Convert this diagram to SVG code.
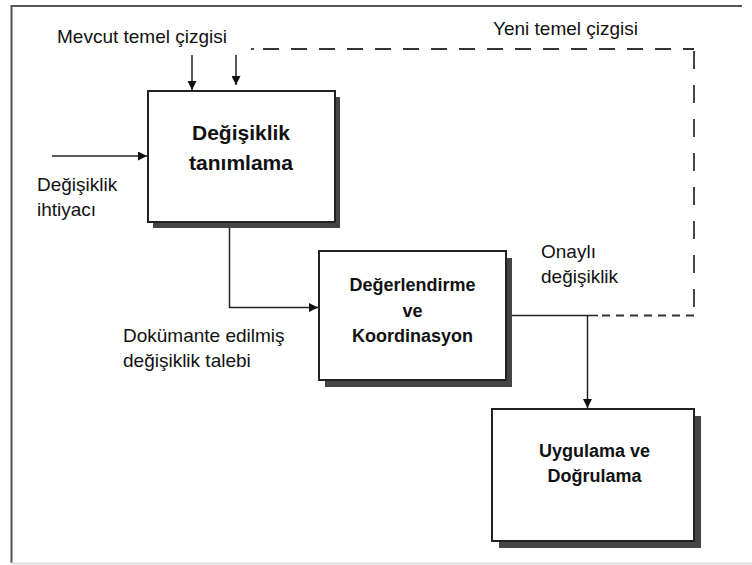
<svg xmlns="http://www.w3.org/2000/svg" width="752" height="565" viewBox="0 0 752 565">
  <style>
    .frame { stroke: #555; stroke-width: 2; fill: none; }
    .box { fill: #fff; stroke: #222; stroke-width: 2; }
    .shadow { fill: #444; }
    .line { stroke: #222; stroke-width: 1.5; fill: none; }
    .dash { stroke: #333; stroke-width: 1.8; fill: none; }
    .lbl { font-family: "Liberation Sans", Arial, sans-serif; font-size: 19px; fill: #111; }
    .title { font-family: "Liberation Sans", Arial, sans-serif; font-weight: bold; fill: #111; text-anchor: middle; }
  </style>
  <defs>
    <marker id="arrow" viewBox="0 0 10 10" refX="10" refY="5" markerWidth="10" markerHeight="9" markerUnits="userSpaceOnUse" orient="auto">
      <path d="M0,0 L10,5 L0,10 z" fill="#111"/>
    </marker>
  </defs>

  <rect width="752" height="565" fill="#fff"/>

  <!-- outer frame -->
  <g id="frame">
    <path class="frame" d="M11.5,563 V6 H742"/>
    <line x1="11" y1="563.5" x2="752" y2="563.5" stroke="#ddd" stroke-width="2"/>
  </g>

  <!-- connectors -->
  <g id="connectors">
    <path class="line" d="M52,156 H147" marker-end="url(#arrow)"/>
    <path class="line" d="M192,55 V90" marker-end="url(#arrow)"/>
    <path class="line" d="M236,55 V85" marker-end="url(#arrow)"/>
    <path class="line" d="M229.5,222 V307.5 H318" marker-end="url(#arrow)"/>
    <path class="line" d="M506,315.5 H598"/>
    <path class="line" d="M587.5,315.5 V408" marker-end="url(#arrow)"/>
    <!-- new baseline feedback -->
    <path class="dash" d="M251,49 H254"/>
    <path class="dash" d="M263,49 H694" stroke-dasharray="16 12"/>
    <path class="dash" d="M694,49 V315" stroke-dasharray="0 2 18 14"/>
    <path class="dash" d="M694,315.5 H598" stroke-dasharray="8 6"/>
  </g>

  <!-- free labels -->
  <g id="labels">
    <text class="lbl" x="57" y="43">Mevcut temel çizgisi</text>
    <text class="lbl" x="493" y="35">Yeni temel çizgisi</text>
    <text class="lbl" x="37" y="191">Değişiklik</text>
    <text class="lbl" x="37" y="216">ihtiyacı</text>
    <text class="lbl" x="123" y="342">Dokümante edilmiş</text>
    <text class="lbl" x="123" y="367">değişiklik talebi</text>
    <text class="lbl" x="541" y="258">Onaylı</text>
    <text class="lbl" x="541" y="283">değişiklik</text>
  </g>

  <g id="node-tanimlama">
    <rect class="shadow" x="153" y="97" width="187" height="131"/>
    <rect class="box" x="148" y="91" width="187" height="131"/>
    <text class="title" x="241" y="140" font-size="21">Değişiklik</text>
    <text class="title" x="241" y="170" font-size="21">tanımlama</text>
  </g>

  <g id="node-degerlendirme">
    <rect class="shadow" x="325" y="258" width="187" height="129"/>
    <rect class="box" x="319" y="251" width="187" height="129"/>
    <text class="title" x="412.5" y="291" font-size="18">Değerlendirme</text>
    <text class="title" x="412.5" y="316.5" font-size="18">ve</text>
    <text class="title" x="412.5" y="341.5" font-size="18">Koordinasyon</text>
  </g>

  <g id="node-uygulama">
    <rect class="shadow" x="499" y="416" width="202" height="132"/>
    <rect class="box" x="492" y="409" width="202" height="132"/>
    <text class="title" x="594.5" y="456.5" font-size="18">Uygulama ve</text>
    <text class="title" x="594.5" y="481.5" font-size="18">Doğrulama</text>
  </g>
</svg>
